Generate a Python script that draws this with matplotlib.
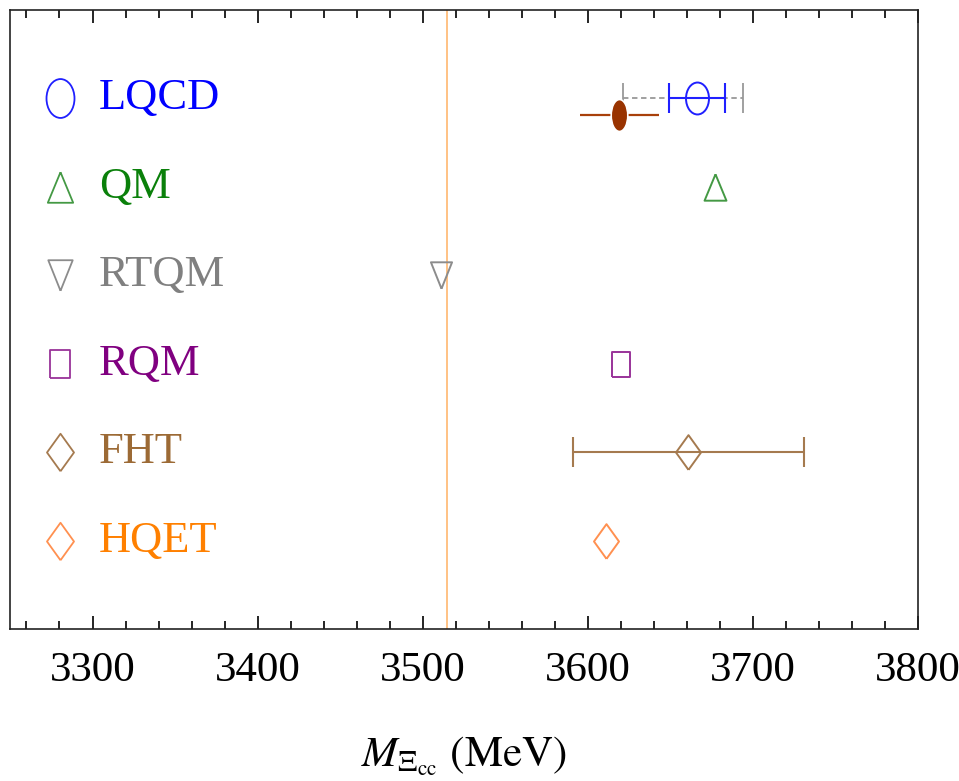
import numpy as np
import matplotlib
matplotlib.use("Agg")
import matplotlib.pyplot as plt
from matplotlib.path import Path

plt.rcParams["font.family"] = ["Liberation Serif", "DejaVu Serif"]
plt.rcParams["mathtext.fontset"] = "stix"

# Xi_cc mass predictions (MeV), one row per model, top to bottom
models = ["LQCD", "QM", "RTQM", "RQM", "FHT", "HQET"]
masses = [3666, 3677, 3511, 3620, 3661, 3611]
errors = [17, 0, 0, 0, 70, 0]
rows = [6, 5, 4, 3, 2, 1]

# extra LQCD band (dashed) and the measured point just below the LQCD row
lqcd_band_lo = 44.5
lqcd_band_hi = 28.3
exp_mass = 3619
exp_err = 24
exp_row = 5.81

ref_line = 3515

text_colors = ["#0000ff", "#0a800a", "#808080", "#800080", "#9c6a35", "#ff8000"]
mark_colors = ["#2020ff", "#449944", "#8c8c8c", "#993399", "#a57a4f", "#ff9050"]


def squash(verts, sx):
    v = np.asarray(verts, dtype=float)
    v[:, 0] *= sx
    return Path(v)


circ = Path.unit_circle().vertices
ellipse = Path(circ * [0.72, 1.0], Path.unit_circle().codes)
thin_ellipse = Path(circ * [0.52, 1.0], Path.unit_circle().codes)
tri_up = squash([[0, 1], [-1, -1], [1, -1], [0, 1]], 0.83)
tri_dn = squash([[0, -1], [-1, 1], [1, 1], [0, -1]], 0.80)
square = squash([[-1, -1], [1, -1], [1, 1], [-1, 1], [-1, -1]], 0.71)
diamond = squash([[0, -1], [1, 0], [0, 1], [-1, 0], [0, -1]], 0.72)

markers = [ellipse, tri_up, tri_dn, square, diamond, diamond]
plot_sizes = [23, 19, 19, 18, 25, 25]
key_sizes = [28, 22, 22, 20, 27, 27]

fig = plt.figure(figsize=(9.59, 7.81), dpi=100)
ax = fig.add_axes([0.0104, 0.1946, 0.9468, 0.7926])

ax.axvline(ref_line, color="#ffb870", lw=1.2, zorder=1)

# dashed LQCD band
eb = ax.errorbar(masses[0], rows[0], xerr=[[lqcd_band_lo], [lqcd_band_hi]],
                 fmt="none", ecolor="#999999", elinewidth=1.3, capsize=10.8,
                 capthick=1.3, zorder=2)
eb[2][0].set_linestyle((0, (3, 2)))

for m, r, e, mk, c, s in zip(masses, rows, errors, markers, mark_colors, plot_sizes):
    if e:
        ax.errorbar(m, r, xerr=e, fmt="none", ecolor=c, elinewidth=1.5,
                    capsize=10.8, capthick=1.5, zorder=3)
    ax.plot(m, r, linestyle="none", marker=mk, markersize=s,
            markerfacecolor="none", markeredgecolor=c, markeredgewidth=1.4,
            zorder=4)

ax.errorbar(exp_mass, exp_row, xerr=exp_err, fmt="none", ecolor="#a8400a",
            elinewidth=1.6, capsize=0, zorder=5)
ax.plot(exp_mass, exp_row, linestyle="none", marker=thin_ellipse,
        markersize=23, color="#993300", markeredgecolor="white",
        markeredgewidth=1.2, zorder=6)

# key on the left
for name, r, mk, c, tc, s in zip(models, rows, markers, mark_colors,
                                 text_colors, key_sizes):
    ax.plot(3280.2, r, linestyle="none", marker=mk, markersize=s,
            markerfacecolor="none", markeredgecolor=c, markeredgewidth=1.3,
            clip_on=False)
    ax.text(3304, r, name, color=tc, fontsize=32, va="center", ha="left")

ax.set_xlim(3250, 3800)
ax.set_ylim(0, 7)
ax.set_yticks([])
ax.set_xticks(np.arange(3300, 3801, 100))
ax.set_xticks(np.arange(3260, 3800, 20), minor=True)
ax.tick_params(axis="x", which="both", direction="in", top=True, bottom=True,
               width=1.2, labelsize=31, pad=16)
ax.tick_params(axis="x", which="major", length=9.5)
ax.tick_params(axis="x", which="minor", length=5.5)
for sp in ax.spines.values():
    sp.set_linewidth(1.2)
    sp.set_color("#222222")

ax.set_xlabel(r"$M_{\Xi_{\rm cc}}\ (\mathrm{MeV})$", fontsize=31, labelpad=32)

fig.savefig("out.png", dpi=100)
